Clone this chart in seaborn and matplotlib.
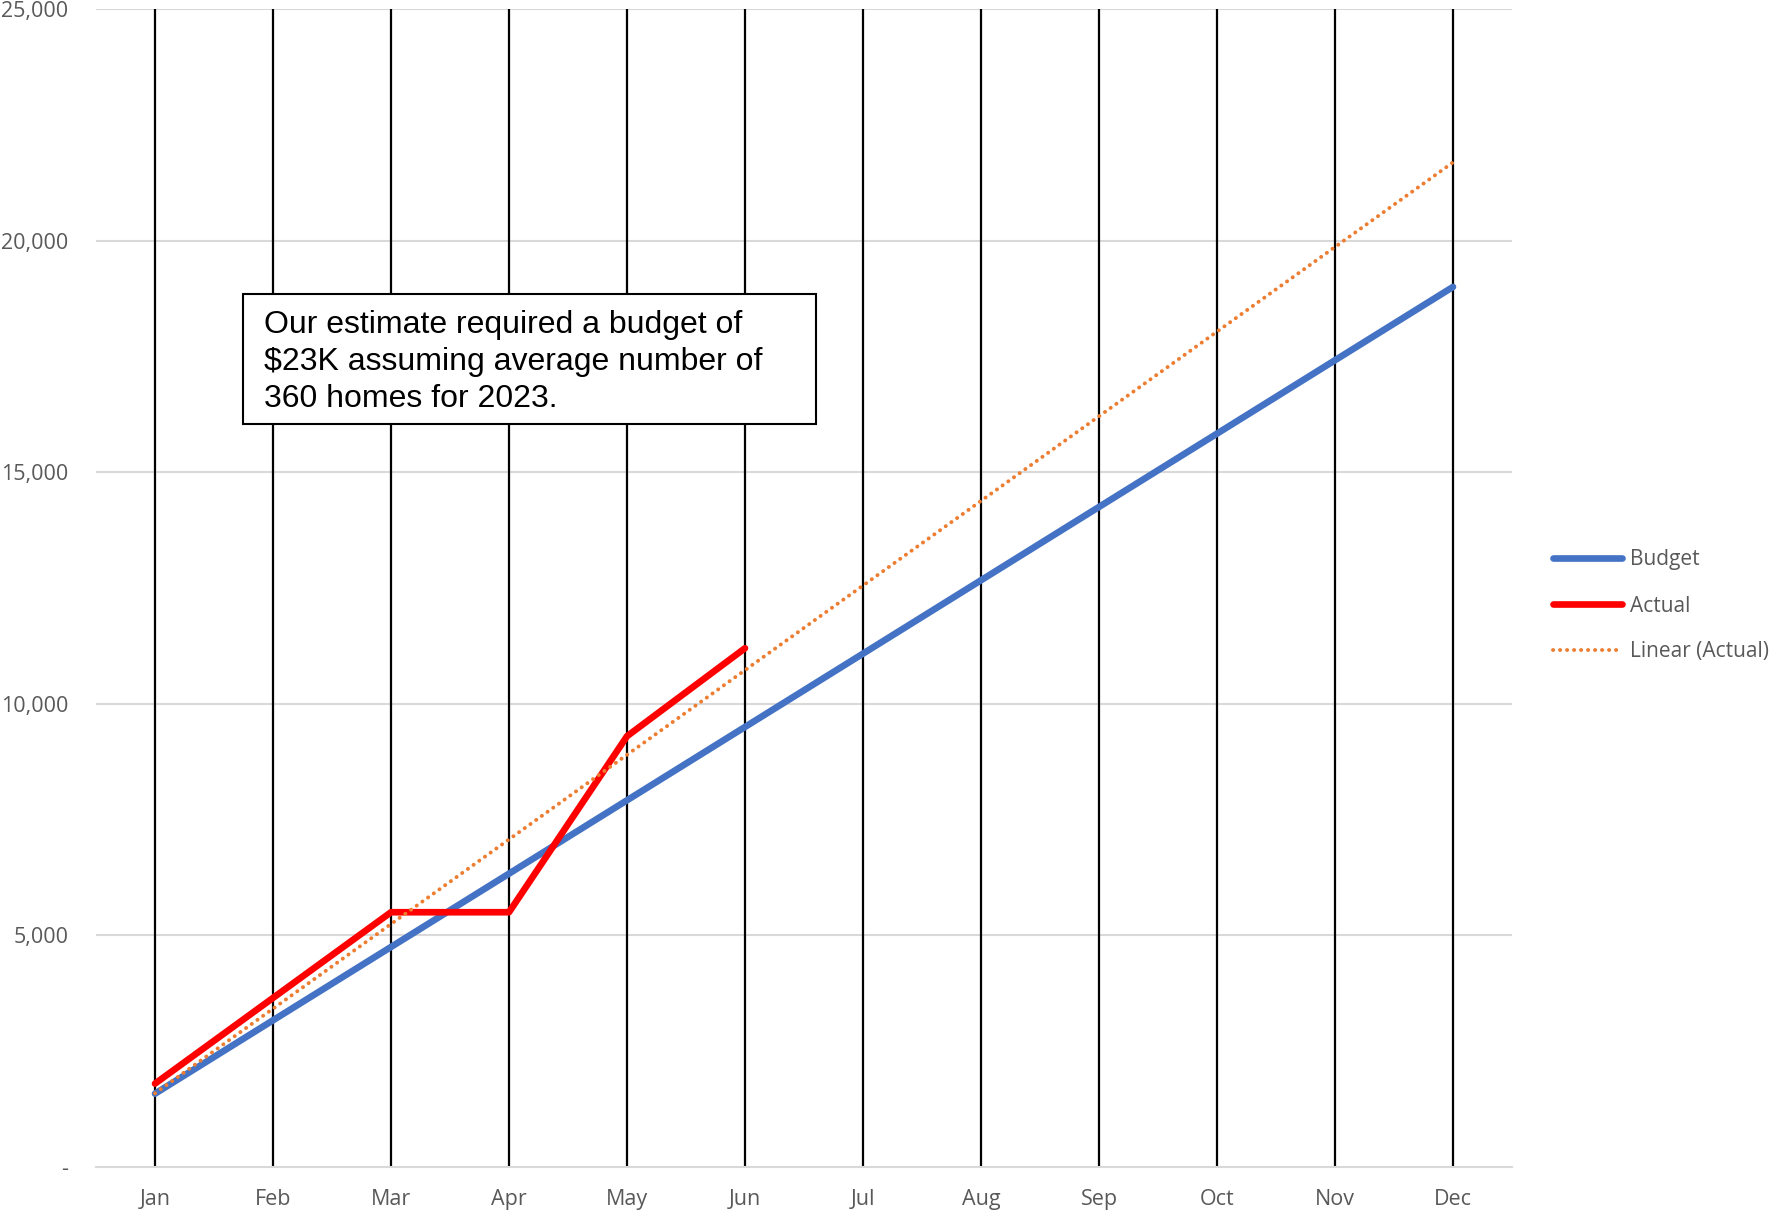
import numpy as np
import pandas as pd
import matplotlib
matplotlib.use("Agg")
import matplotlib.pyplot as plt
from matplotlib.patches import Rectangle
import seaborn as sns

# Monthly cumulative spend
months = ["Jan", "Feb", "Mar", "Apr", "May", "Jun",
          "Jul", "Aug", "Sep", "Oct", "Nov", "Dec"]
budget = [1583, 3167, 4750, 6333, 7917, 9500,
          11083, 12667, 14250, 15833, 17417, 19000]
actual = [1800, 3650, 5500, 5500, 9300, 11200]

y_ticks = [0, 5000, 10000, 15000, 20000, 25000]
y_tick_labels = ["-", "5,000", "10,000", "15,000", "20,000", "25,000"]

note = ("Our estimate required a budget of\n"
        "$23K assuming average number of\n"
        "360 homes for 2023.")

BLUE = "#4472C4"
RED = "#FF0000"
ORANGE = "#ED7D31"
GREY_TXT = "#595959"
GRID = "#D9D9D9"

sns.set_theme(style="white")
plt.rcParams["font.family"] = ["Open Sans", "DejaVu Sans"]

idx = np.arange(len(months))
budget_df = pd.DataFrame({"m": idx, "v": budget})
actual_df = pd.DataFrame({"m": idx[:len(actual)], "v": actual})

# Linear trendline fitted to the actual values, extended over the year
slope, intercept = np.polyfit(np.arange(1, len(actual) + 1), actual, 1)
trend_df = pd.DataFrame({"m": idx, "v": slope * (idx + 1) + intercept})

fig = plt.figure(figsize=(17.75, 12.16), dpi=100)
ax = fig.add_axes([96 / 1775, 49 / 1216, 1416 / 1775, 1158 / 1216])

sns.lineplot(data=budget_df, x="m", y="v", ax=ax, color=BLUE, lw=4.8,
             label="Budget", solid_capstyle="round", zorder=4)
sns.lineplot(data=actual_df, x="m", y="v", ax=ax, color=RED, lw=4.8,
             label="Actual", solid_capstyle="round", zorder=5)
sns.lineplot(data=trend_df, x="m", y="v", ax=ax, color=ORANGE, lw=2.8,
             label="Linear (Actual)", dashes=False, zorder=6,
             linestyle=(0, (0.05, 1.75)), dash_capstyle="round")

ax.set_xlim(-0.5, len(months) - 0.5)
ax.set_ylim(0, 25000)
ax.set_xticks(idx)
ax.set_xticklabels(months)
ax.set_yticks(y_ticks)
ax.set_yticklabels(y_tick_labels)
ax.set_xlabel("")
ax.set_ylabel("")

ax.tick_params(axis="both", length=0, labelsize=15.5, labelcolor=GREY_TXT)
ax.tick_params(axis="x", pad=16)
ax.tick_params(axis="y", pad=20)

# Horizontal grey gridlines and black vertical month lines
for y in y_ticks[1:]:
    ax.axhline(y, color=GRID, lw=1.5, zorder=1)
for i in idx:
    ax.axvline(i, color="black", lw=1.6, zorder=2)

for side in ["top", "right", "left"]:
    ax.spines[side].set_visible(False)
ax.spines["bottom"].set_color(GRID)
ax.spines["bottom"].set_linewidth(1.5)

leg = ax.legend(loc="center left", bbox_to_anchor=(1553 / 1775, 1 - 606 / 1216),
                bbox_transform=fig.transFigure, frameon=False, fontsize=15,
                handlelength=3.3, handletextpad=0.38, labelspacing=1.2,
                borderaxespad=0, borderpad=0)
for t in leg.get_texts():
    t.set_color(GREY_TXT)

# Annotation box
fig.patches.append(Rectangle((243 / 1775, 1 - 424 / 1216), 573 / 1775, 130 / 1216,
                             transform=fig.transFigure, facecolor="white",
                             edgecolor="black", lw=1.5, zorder=10))
fig.text(264 / 1775, 1 - 362 / 1216, note, ha="left", va="center",
         fontsize=23, family=["Liberation Sans", "DejaVu Sans"],
         color="black", linespacing=1.31, zorder=11)

fig.savefig("out.png", dpi=100)
